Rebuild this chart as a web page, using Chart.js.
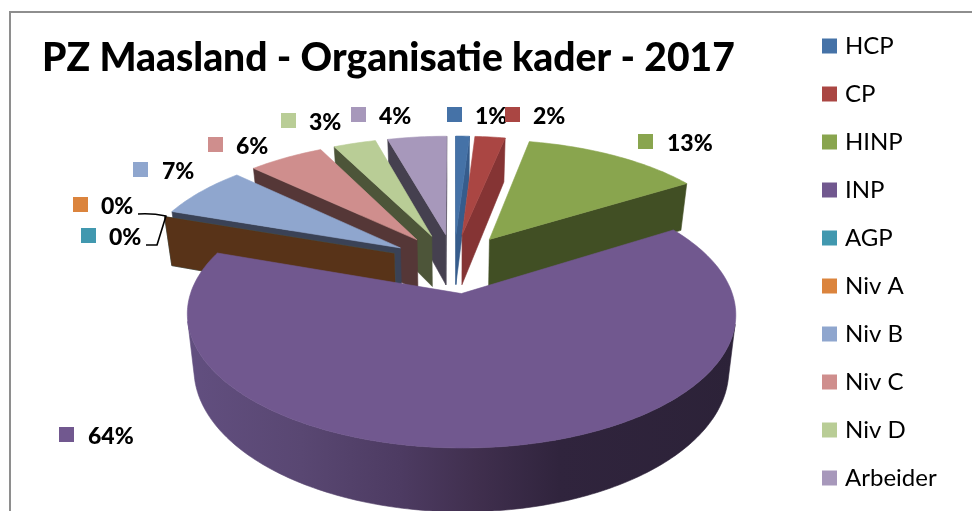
<!DOCTYPE html>
<html><head><meta charset="utf-8">
<style>html,body{margin:0;padding:0;background:#fff;overflow:hidden}canvas{display:block}</style>
<script src="https://cdn.jsdelivr.net/npm/chart.js@4"></script>
</head><body><canvas id="c" width="972" height="511"></canvas>
<script>
const categories = ['HCP','CP','HINP','INP','AGP','Niv A','Niv B','Niv C','Niv D','Arbeider'];
const percents = [1.0,2.2,12.95,64.15,0,0,6.8,5.5,3.1,4.3];
const titleText = 'PZ Maasland - Organisatie kader - 2017';

const faceColors = ['#4572A7','#AA4643','#89A54E','#71588F','#4198AF','#DB843D','#8FA6CE','#CF8E8D','#B9CD96','#A798BB'];
const wallColors = ['#365C8C','#853434','#414F24','#2E2339','#2E6F80','#583318','#3A4256','#553737','#4D5539','#45404F'];
const labelBoxes = [[447,107],[505,107],[638,134],[59,427],[81,228],[73,197],[133,162],[208,137],[281,113],[351,107]];
const labelTextGap = [28,28,29,29,28,28,29,28,28,28];

// 3D view of the pie
const view = {cx:454, cy:263, rx:261, ty:121, persp:0.15, depth:52, narrow:0.025, explode:0.245};
function project(X,Y,h){
  const w = 1 - view.persp*Y;
  return [view.cx + view.rx*X/w*(1 - view.narrow*h), view.cy + (view.ty*Y + view.depth*h)/w];
}
function polyArea(p){
  let s=0; for(let i=0;i<p.length;i++){const a=p[i],b=p[(i+1)%p.length]; s+=a[0]*b[1]-b[0]*a[1];} return s/2;
}
function fillPoly(ctx,p,color){
  ctx.beginPath(); p.forEach((q,i)=> i?ctx.lineTo(q[0],q[1]):ctx.moveTo(q[0],q[1])); ctx.closePath();
  ctx.fillStyle=color; ctx.strokeStyle=color; ctx.lineWidth=0.6; ctx.fill(); ctx.stroke();
}
const pie3d = {
  id:'pie3d',
  beforeDraw(chart){
    const ctx=chart.ctx; ctx.save();
    ctx.fillStyle='#fff'; ctx.fillRect(0,0,chart.width,chart.height);
    ctx.strokeStyle='#8e8e8e'; ctx.lineWidth=2;
    ctx.beginPath(); ctx.moveTo(10,chart.height); ctx.lineTo(10,12); ctx.lineTo(chart.width,12); ctx.stroke();
    ctx.restore();
  },
  afterLayout(chart){
    chart.legend.left = 802;
    chart.legend.top = 10;
    chart.legend.bottom = 560;
  },
  beforeDatasetsDraw(chart){
    const ctx=chart.ctx, meta=chart.getDatasetMeta(0);
    const grad=ctx.createLinearGradient(186,0,735,0);
    [[0,'#624F80'],[0.21,'#594772'],[0.39,'#4D3B62'],[0.53,'#402F4E'],[0.68,'#30243D'],[1,'#2C2238']].forEach(s=>grad.addColorStop(s[0],s[1]));
    const items=meta.data.map((a,i)=>{
      const s=a.startAngle,e=a.endAngle,m=(s+e)/2;
      return {i,s,e,ox:Math.cos(m)*view.explode,oy:Math.sin(m)*view.explode};
    });
    const order=items.slice().sort((p,q)=>p.oy-q.oy);
    ctx.save();
    order.forEach(it=>{
      const wall = it.i===3 ? grad : wallColors[it.i];
      const pts=[[it.ox,it.oy]];
      const n=Math.max(1,Math.ceil((it.e-it.s)/(Math.PI/180)));
      for(let k=0;k<=n;k++){const t=it.s+(it.e-it.s)*k/n; pts.push([it.ox+Math.cos(t),it.oy+Math.sin(t)]);}
      const top=pts.map(p=>project(p[0],p[1],0)), bot=pts.map(p=>project(p[0],p[1],1));
      const L=pts.length;
      const front=k=>polyArea([top[k],top[(k+1)%L],bot[(k+1)%L],bot[k]])<0;
      // radial walls
      [0,L-1].forEach(k=>{ if(front(k)) fillPoly(ctx,[top[k],top[(k+1)%L],bot[(k+1)%L],bot[k]],wall); });
      // rim wall, joined into continuous runs
      let k=1;
      while(k<L-1){
        if(!front(k)){k++;continue;}
        let j=k; while(j<L-1 && front(j)) j++;
        const up=[],dn=[];
        for(let q=k;q<=j;q++){up.push(top[q]);dn.unshift(bot[q]);}
        fillPoly(ctx,up.concat(dn),wall);
        k=j;
      }
      if(it.e>it.s) fillPoly(ctx,top,faceColors[it.i]);
    });
    ctx.restore();
    return false;
  },
  afterDraw(chart){
    const ctx=chart.ctx;
    ctx.save();
    ctx.strokeStyle='#000'; ctx.lineWidth=1.6; ctx.lineJoin='round';
    ctx.beginPath(); ctx.moveTo(138,214); ctx.quadraticCurveTo(152,213,166,216); ctx.lineTo(157,245); ctx.lineTo(146,245); ctx.stroke();
    ctx.font='900 23px Lato'; ctx.textBaseline='middle'; ctx.textAlign='left';
    percents.forEach((v,i)=>{
      const b=labelBoxes[i];
      ctx.fillStyle=faceColors[i]; ctx.fillRect(b[0],b[1],15,15);
      ctx.fillStyle='#000'; ctx.fillText(Math.round(v)+'%',b[0]+labelTextGap[i],b[1]+10);
    });
    ctx.restore();
  }
};
new Chart(document.getElementById('c'),{
  type:'pie',
  data:{labels:categories,datasets:[{data:percents,backgroundColor:faceColors,offset:20,borderWidth:0}]},
  plugins:[pie3d],
  options:{
    responsive:false,animation:false,
    layout:{padding:{left:42,top:0,right:0,bottom:0}},
    plugins:{
      tooltip:{enabled:false},
      title:{display:true,text:titleText,align:'start',fullSize:false,color:'#000',
        font:{family:'Lato',size:39,weight:'900'},padding:{top:35,bottom:10}},
      legend:{position:'right',align:'start',
        labels:{color:'#000',font:{family:'Lato',size:24},padding:24,boxWidth:7,boxHeight:7,
          generateLabels(chart){return categories.map((c,i)=>({text:c,fillStyle:faceColors[i],strokeStyle:faceColors[i],lineWidth:8,index:i,hidden:false,fontColor:'#000'}));}}
      }
    }
  }
});
</script></body></html>
